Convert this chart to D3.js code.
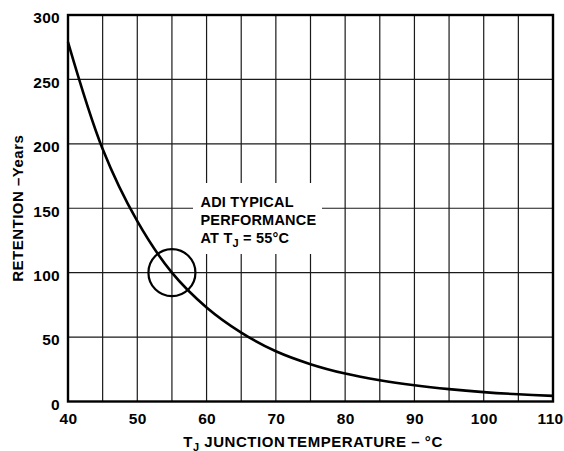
<!DOCTYPE html>
<html>
<head>
<meta charset="utf-8">
<script src="https://cdn.jsdelivr.net/npm/d3@7"></script>
<style>
  body { margin: 0; background: #fff; }
  svg { display: block; }
  text { font-family: "Liberation Sans", Arial, Helvetica, sans-serif; font-weight: bold; fill: #000; }
</style>
</head>
<body>
<div id="chart"></div>
<script>
// junction temperature (deg C) and data retention (years)
const temps = [40, 45, 50, 55, 60, 65, 70, 75, 80, 85, 90, 95, 100, 105, 110];
const retention = [279, 196, 140, 100, 73, 53.5, 39, 29, 21.7, 16.5, 12.6, 9.6, 7.3, 5.6, 4.4];

const xTicks = [40, 50, 60, 70, 80, 90, 100, 110];
const yTicks = [0, 50, 100, 150, 200, 250, 300];
const xGrid = [45, 50, 55, 60, 65, 70, 75, 80, 85, 90, 95, 100, 105];
const yGrid = [50, 100, 150, 200, 250];

const marker = { t: 55, r: 100 };
const noteLines = ["ADI TYPICAL", "PERFORMANCE"];

const width = 564, height = 451;
const margin = { top: 15, right: 11, bottom: 49.5, left: 68 };

const svg = d3.select("#chart").append("svg")
    .attr("width", width)
    .attr("height", height);

const x = d3.scaleLinear().domain([40, 110]).range([margin.left, width - margin.right]);
const y = d3.scaleLinear().domain([0, 300]).range([height - margin.bottom, margin.top]);

// grid
svg.append("g")
    .selectAll("line.vg")
    .data(xGrid)
    .enter().append("line")
    .attr("x1", d => x(d)).attr("x2", d => x(d))
    .attr("y1", y(0)).attr("y2", y(300))
    .attr("stroke", "#1a1a1a")
    .attr("stroke-width", 1.2);

svg.append("g")
    .selectAll("line.hg")
    .data(yGrid)
    .enter().append("line")
    .attr("x1", x(40)).attr("x2", x(110))
    .attr("y1", d => y(d)).attr("y2", d => y(d))
    .attr("stroke", "#1a1a1a")
    .attr("stroke-width", 1.2);

// white box behind the note
svg.append("rect")
    .attr("x", 193).attr("y", 183)
    .attr("width", 129).attr("height", 71)
    .attr("fill", "#fff");

// frame
svg.append("rect")
    .attr("x", x(40)).attr("y", y(300))
    .attr("width", x(110) - x(40))
    .attr("height", y(0) - y(300))
    .attr("fill", "none")
    .attr("stroke", "#000")
    .attr("stroke-width", 2.4);

// tick labels
const xAxis = svg.append("g")
    .attr("transform", `translate(0,${y(0)})`)
    .call(d3.axisBottom(x).tickValues(xTicks).tickSize(0).tickPadding(0).tickFormat(d3.format("d")));
xAxis.select(".domain").remove();
xAxis.selectAll("text")
    .attr("dy", null)
    .attr("y", 22.5)
    .style("font-size", "15.5px")
    .style("letter-spacing", "0.3px")
    .style("font-family", "\"Liberation Sans\", Arial, sans-serif")
    .style("font-weight", "bold");
// last label sits against the right edge, as in the original
xAxis.selectAll(".tick").filter(d => d === 110).select("text")
    .attr("text-anchor", "end")
    .attr("x", 10);

const yAxis = svg.append("g")
    .attr("transform", `translate(${x(40)},0)`)
    .call(d3.axisLeft(y).tickValues(yTicks).tickSize(0).tickPadding(8).tickFormat(d3.format("d")));
yAxis.select(".domain").remove();
yAxis.selectAll("text")
    .attr("dy", "0.5em")
    .style("font-size", "15.5px")
    .style("letter-spacing", "0.3px")
    .style("font-family", "\"Liberation Sans\", Arial, sans-serif")
    .style("font-weight", "bold");

// curve
const line = d3.line()
    .x((d, i) => x(temps[i]))
    .y(d => y(d))
    .curve(d3.curveCatmullRom.alpha(0.5));

svg.append("path")
    .datum(retention)
    .attr("d", line)
    .attr("fill", "none")
    .attr("stroke", "#000")
    .attr("stroke-width", 2.6);

// marker circle
svg.append("circle")
    .attr("cx", x(marker.t))
    .attr("cy", y(marker.r))
    .attr("r", 23.5)
    .attr("fill", "none")
    .attr("stroke", "#000")
    .attr("stroke-width", 2.2);

// note
const note = svg.append("text")
    .attr("x", 200.5)
    .attr("y", 207.3)
    .style("font-size", "14.5px")
    .style("letter-spacing", "0.2px");
noteLines.forEach((t, i) => {
    note.append("tspan").attr("x", 200.5).attr("dy", i === 0 ? 0 : 17.8).text(t);
});
note.append("tspan").attr("x", 200.5).attr("dy", 17.6).text("AT T");
note.append("tspan").attr("dy", 4).style("font-size", "11px").text("J");
note.append("tspan").attr("dy", -4).text(" = 55°C");

// axis titles
const xt = svg.append("text")
    .attr("x", (x(40) + x(110)) / 2 + 2.5)
    .attr("y", 446.5)
    .attr("text-anchor", "middle")
    .style("font-size", "15px")
    .style("letter-spacing", "0.55px");
xt.append("tspan").text("T");
xt.append("tspan").attr("dy", 4).style("font-size", "11px").text("J");
xt.append("tspan").attr("dy", -4).text(" JUNCTION");
xt.append("tspan").attr("dx", 2).text("TEMPERATURE – °C");

svg.append("text")
    .attr("transform", `translate(23,${(y(0) + y(300)) / 2}) rotate(-90)`)
    .attr("text-anchor", "middle")
    .style("font-size", "15px")
    .style("letter-spacing", "0.5px")
    .text("RETENTION –Years");
</script>
</body>
</html>
